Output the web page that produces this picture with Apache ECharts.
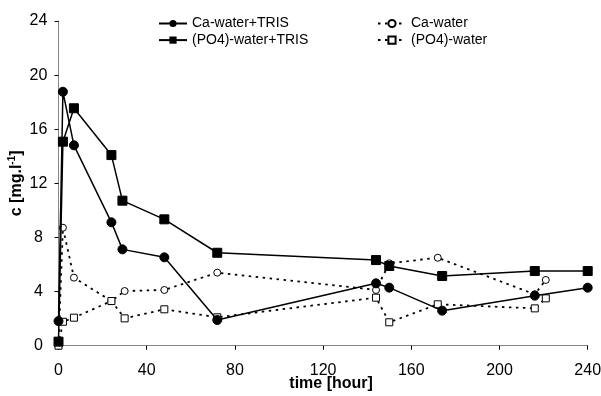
<!DOCTYPE html>
<html>
<head>
<meta charset="utf-8">
<script src="https://cdn.jsdelivr.net/npm/echarts@6/dist/echarts.min.js"></script>
<style>
html,body{margin:0;padding:0;background:#fff;}
#chart{width:601px;height:396px;}
</style>
</head>
<body>
<div id="chart"></div>
<script>
// Data
const seriesNames = ['Ca-water+TRIS', '(PO4)-water+TRIS', 'Ca-water', '(PO4)-water'];
const caTrisTime   = [0, 2, 7, 24, 29, 48, 72, 144, 150, 174, 216, 240];
const caTrisValue  = [1.82, 18.77, 14.81, 9.12, 7.12, 6.53, 1.9, 4.61, 4.29, 2.59, 3.7, 4.29];
const po4TrisTime  = [0, 2, 7, 24, 29, 48, 72, 144, 150, 174, 216, 240];
const po4TrisValue = [0.3, 15.08, 17.55, 14.09, 10.72, 9.34, 6.87, 6.33, 5.89, 5.15, 5.52, 5.52];
const caWaterTime  = [0, 2, 7, 24, 30, 48, 72, 144, 150, 172, 216, 221];
const caWaterValue = [0, 8.72, 5.03, 3.3, 4.04, 4.12, 5.4, 4.12, 6.09, 6.5, 3.8, 4.86];
const po4WaterTime = [0, 2, 7, 24, 30, 48, 72, 144, 150, 172, 216, 221];
const po4WaterValue= [0, 1.77, 2.07, 3.3, 2.02, 2.69, 2.1, 3.55, 1.73, 3.06, 2.76, 3.5];
const xTicks = [0, 40, 80, 120, 160, 200, 240];
const yTicks = [0, 4, 8, 12, 16, 20, 24];

function zip(t, v) { return t.map((x, i) => [x, v[i]]); }

const FONT = 'Liberation Sans, Arial, sans-serif';
const axisGray = '#868686';

const chart = echarts.init(document.getElementById('chart'), null, {renderer: 'canvas'});
const solidLine = {color: '#000', width: 1.5, type: 'solid'};
const dotLine = {color: '#000', width: 1.8, type: [2.5, 4.5]};

const legendText = {color: '#000', fontSize: 14, fontFamily: FONT, lineHeight: 16};

const option = {
  animation: false,
  backgroundColor: '#fff',
  grid: {left: 58.5, right: 13.3, top: 21, bottom: 50.3, containLabel: false, outerBoundsMode: 'none'},
  legend: [
    {
      data: [seriesNames[0], seriesNames[1]],
      orient: 'vertical', left: 158, top: 15.5,
      itemWidth: 28, itemHeight: 9, itemGap: 0.6,
      textStyle: legendText,
      padding: 0
    },
    {
      data: [seriesNames[2], seriesNames[3]],
      orient: 'vertical', left: 377, top: 15.5,
      itemWidth: 28, itemHeight: 9, itemGap: 0.6,
      textStyle: legendText,
      padding: 0
    }
  ],
  xAxis: {
    type: 'value', min: xTicks[0], max: xTicks[xTicks.length - 1], interval: xTicks[1] - xTicks[0],
    axisLine: {show: true, lineStyle: {color: axisGray, width: 1}},
    axisTick: {show: true, length: 4, lineStyle: {color: '#000'}},
    splitLine: {show: false},
    axisLabel: {color: '#000', fontSize: 16, fontFamily: FONT, margin: 17},
    name: 'time [hour]', nameLocation: 'middle', nameGap: 30, nameMoveOverlap: false,
    nameTextStyle: {color: '#000', fontWeight: 'bold', fontSize: 16, fontFamily: FONT, padding: [0, 0, 0, 16]}
  },
  yAxis: {
    type: 'value', min: yTicks[0], max: yTicks[yTicks.length - 1], interval: yTicks[1] - yTicks[0],
    axisLine: {show: true, lineStyle: {color: axisGray, width: 1}},
    axisTick: {show: true, length: 4, lineStyle: {color: '#000'}},
    splitLine: {show: false},
    axisLabel: {color: '#000', fontSize: 16, fontFamily: FONT, margin: 20, align: 'center'},
    name: '{a|c [mg.l}{b|-1}{a|]}', nameLocation: 'middle', nameGap: 33, nameRotate: 90, nameMoveOverlap: false,
    nameTextStyle: {
      color: '#000', fontFamily: FONT,
      rich: {
        a: {fontWeight: 'bold', fontSize: 16, fontFamily: FONT, color: '#000', lineHeight: 18},
        b: {fontWeight: 'bold', fontSize: 10, fontFamily: FONT, color: '#000', verticalAlign: 'top', lineHeight: 18, padding: [0, 0, 7, 0]}
      }
    }
  },
  series: [
    {
      name: seriesNames[0], type: 'line', data: zip(caTrisTime, caTrisValue),
      symbol: 'circle', symbolSize: 9,
      itemStyle: {color: '#000', borderColor: '#000'},
      lineStyle: solidLine, z: 3
    },
    {
      name: seriesNames[1], type: 'line', data: zip(po4TrisTime, po4TrisValue),
      symbol: 'rect', symbolSize: 9,
      itemStyle: {color: '#000', borderColor: '#000'},
      lineStyle: solidLine, z: 3
    },
    {
      name: seriesNames[2], type: 'line', data: zip(caWaterTime, caWaterValue),
      symbol: 'circle', symbolSize: 7,
      itemStyle: {color: '#fff', borderColor: '#000', borderWidth: 1},
      lineStyle: dotLine, z: 2
    },
    {
      name: seriesNames[3], type: 'line', data: zip(po4WaterTime, po4WaterValue),
      symbol: 'rect', symbolSize: 7,
      itemStyle: {color: '#fff', borderColor: '#000', borderWidth: 1},
      lineStyle: dotLine, z: 2
    }
  ]
};
chart.setOption(option);
</script>
</body>
</html>
